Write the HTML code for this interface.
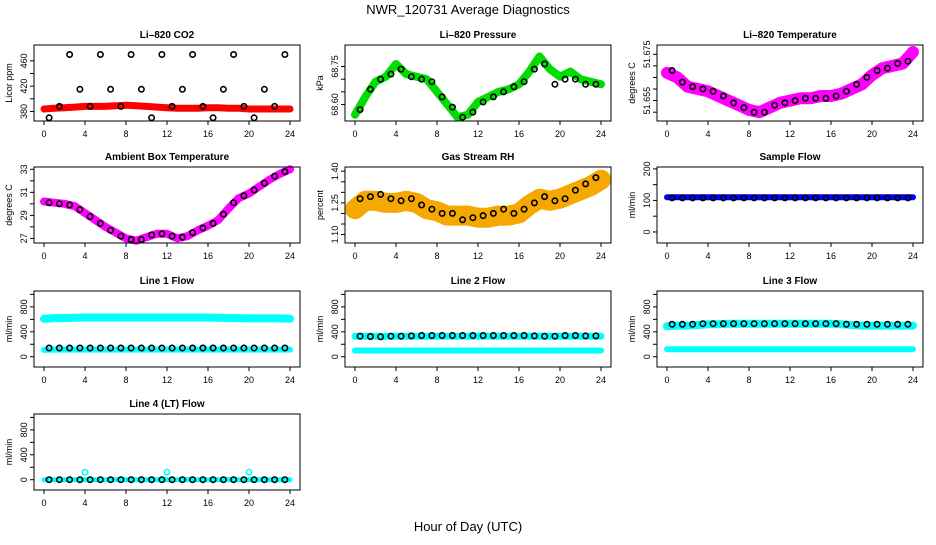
<!DOCTYPE html>
<html><head><meta charset="utf-8"><style>
body{margin:0;background:#fff}
svg text{font-family:"Liberation Sans",sans-serif;fill:#000}
</style></head><body>
<svg id="c" width="936" height="540" xmlns="http://www.w3.org/2000/svg">
<text x="468" y="14" text-anchor="middle" font-size="13">NWR_120731  Average Diagnostics</text>
<text x="468" y="531" text-anchor="middle" font-size="13">Hour of Day (UTC)</text>
</svg>
<script>
const hours = [0,1,2,3,4,5,6,7,8,9,10,11,12,13,14,15,16,17,18,19,20,21,22,23,24];
const halfHours = [0.5,1.5,2.5,3.5,4.5,5.5,6.5,7.5,8.5,9.5,10.5,11.5,12.5,13.5,14.5,15.5,16.5,17.5,18.5,19.5,20.5,21.5,22.5,23.5];
const xTicks = [0,4,8,12,16,20,24];

const co2Band = [384,385,386,387,388,388,388,389,390,389,388,387,386,385,385,385,386,386,385,385,384,384,384,384,384];
const co2Black = [370,388,470,415,388,470,415,388,470,415,370,470,388,415,470,388,370,415,470,388,370,415,388,470];
const presBand = [68.56,68.63,68.69,68.71,68.76,68.72,68.71,68.70,68.65,68.60,68.55,68.56,68.61,68.63,68.65,68.66,68.68,68.73,68.79,68.74,68.71,68.73,68.70,68.69,68.68];
const presBlack = [68.58,68.66,68.70,68.72,68.74,68.71,68.70,68.69,68.63,68.59,68.55,68.57,68.61,68.63,68.65,68.67,68.69,68.74,68.76,68.68,68.70,68.70,68.68,68.68];
const tempBand = [51.667,51.665,51.661,51.660,51.659,51.657,51.655,51.653,51.651,51.650,51.652,51.654,51.655,51.656,51.656,51.657,51.657,51.658,51.660,51.662,51.666,51.669,51.670,51.671,51.676];
const tempBlack = [51.668,51.663,51.661,51.660,51.659,51.657,51.654,51.652,51.650,51.650,51.653,51.654,51.655,51.656,51.656,51.656,51.657,51.659,51.662,51.665,51.668,51.669,51.671,51.672];
const ambBand = [30.2,30.1,30.0,29.8,29.2,28.6,28.0,27.5,27.0,26.8,27.1,27.4,27.4,27.0,27.2,27.7,28.1,28.6,29.6,30.5,30.9,31.5,32.1,32.6,33.0];
const ambBlack = [30.1,30.0,29.9,29.5,28.9,28.3,27.7,27.2,26.9,26.9,27.3,27.4,27.2,27.1,27.5,27.9,28.3,29.1,30.1,30.7,31.2,31.8,32.4,32.8];
const rhBand = [1.22,1.26,1.26,1.25,1.25,1.26,1.25,1.22,1.21,1.19,1.19,1.19,1.18,1.18,1.19,1.19,1.20,1.24,1.27,1.26,1.27,1.29,1.31,1.33,1.36];
const rhBlack = [1.27,1.28,1.29,1.27,1.26,1.27,1.24,1.22,1.20,1.20,1.17,1.18,1.19,1.20,1.22,1.20,1.22,1.25,1.28,1.26,1.27,1.31,1.34,1.37];
const sampleBand = [110,110,110,110,110,110,110,110,110,110,110,110,110,110,110,110,110,110,110,110,110,110,110,110,110];
const sampleBlack = [108,108,108,108,108,108,108,108,108,108,108,108,108,108,108,108,108,108,108,108,108,108,108,108];
const l1High = [610,620,620,625,630,630,630,630,630,630,630,630,630,630,630,630,630,625,620,620,615,615,615,615,610];
const l1Low = [110,115,115,115,115,115,115,115,115,115,115,115,115,115,115,115,115,115,115,115,115,115,115,115,115];
const l1Black = [140,140,140,140,140,140,140,140,140,140,140,140,140,140,140,140,140,140,140,140,140,140,140,140];
const l2High = [330,330,330,330,330,330,330,330,330,330,330,330,330,330,330,330,330,330,330,330,330,330,330,330,330];
const l2Low = [100,100,100,100,100,100,100,100,100,100,100,100,100,100,100,100,100,100,100,100,100,100,100,100,100];
const l2Black = [330,325,320,330,330,335,340,340,340,340,340,340,340,340,340,340,340,335,330,330,340,340,335,335];
const l3High = [490,500,500,510,520,520,530,530,530,530,530,530,530,530,530,530,530,520,510,500,500,500,500,500,500];
const l3Low = [120,120,120,120,120,120,120,120,120,120,120,120,120,120,120,120,120,120,120,120,120,120,120,120,120];
const l3Black = [520,520,520,530,530,530,530,530,530,530,530,530,530,530,530,530,530,520,520,520,520,520,520,520];
const l4Band = [0,0,0,0,0,0,0,0,0,0,0,0,0,0,0,0,0,0,0,0,0,0,0,0,0];
const l4Black = [0,0,0,0,0,0,0,0,0,0,0,0,0,0,0,0,0,0,0,0,0,0,0,0];

const svg = document.getElementById('c');
const NS = 'http://www.w3.org/2000/svg';
function mk(tag, attrs, parent){
  const e = document.createElementNS(NS, tag);
  for (const k in attrs) e.setAttribute(k, attrs[k]);
  (parent||svg).appendChild(e);
  return e;
}
const colX = [34, 345, 657];
const rowY = [45, 167, 291, 414];
const BW = 266, BH = 76;

function panel(col, row, title, ylab, ymin, ymax, ticks, labels, layers, name){
  const L = colX[col], T = rowY[row];
  const g = mk('g', {});
  
  
  const xs = h => L + 10 + h * (BW - 20) / 24;
  const ys = v => T + BH - (v - ymin) / (ymax - ymin) * BH;
  layers.forEach(ly => {
    const xsArr = ly.x, vals = ly.v;
    if (ly.band) {
      let d = '';
      vals.forEach((v, i) => { d += (i ? 'L' : 'M') + xs(xsArr[i]).toFixed(1) + ',' + ys(v).toFixed(1); });
      const p = mk('path', {d: d, fill: 'none', stroke: ly.color, 'stroke-width': ly.band, 'stroke-linejoin': 'round', 'stroke-linecap': 'round'}, g);
      
      
    }
    if (ly.circles) {
      vals.forEach((v, i) => {
        const c = mk('circle', {cx: xs(xsArr[i]).toFixed(1), cy: ys(v).toFixed(1), r: 2.7, fill: 'none', stroke: ly.color, 'stroke-width': 1.6}, g);
        
        
      });
    }
  });
  const box = mk('rect', {x: L, y: T, width: BW, height: BH, fill: 'none', stroke: '#000', 'stroke-width': 1}, g);
  
  
  const t = mk('text', {x: L + BW / 2, y: T - 7, 'text-anchor': 'middle', 'font-size': 10, 'font-weight': 'bold'}, g);
  t.textContent = title;
  
  
  xTicks.forEach(h => {
    mk('line', {x1: xs(h), x2: xs(h), y1: T + BH, y2: T + BH + 4, stroke: '#000'}, g);
    const tx = mk('text', {x: xs(h), y: T + BH + 16, 'text-anchor': 'middle', 'font-size': 9}, g);
    tx.textContent = h;
    
    
  });
  ticks.forEach(v => {
    mk('line', {x1: L, x2: L - 4, y1: ys(v), y2: ys(v), stroke: '#000'}, g);
  });
  labels.forEach(lb => {
    const y = ys(lb[0]);
    const tx = mk('text', {x: L - 7, y: y, 'text-anchor': 'middle', 'font-size': 9, transform: 'rotate(-90 ' + (L - 7) + ' ' + y + ')'}, g);
    tx.textContent = lb[1];
    
    
  });
  const yl = mk('text', {x: L - 22, y: T + BH / 2, 'text-anchor': 'middle', 'font-size': 9, transform: 'rotate(-90 ' + (L - 22) + ' ' + (T + BH / 2) + ')'}, g);
  yl.textContent = ylab;
  
  
}
const flowTicks = [0,200,400,600,800,1000];
const flowLabels = [[0,'0'],[400,'400'],[800,'800']];

panel(0,0,'Li\u2013820 CO2','Licor ppm',365,485,[380,400,420,440,460],[[380,'380'],[420,'420'],[460,'460']],
  [{x:hours,v:co2Band,color:'#f00',band:7},{x:halfHours,v:co2Black,color:'#000',circles:1}],'co2');
panel(1,0,'Li\u2013820 Pressure','kPa',68.535,68.835,[68.60,68.65,68.70,68.75],[[68.60,'68.60'],[68.75,'68.75']],
  [{x:hours,v:presBand,color:'#0d0',band:8},{x:halfHours,v:presBlack,color:'#000',circles:1}],'pressure');
panel(2,0,'Li\u2013820 Temperature','degrees C',51.6462,51.6790,[51.650,51.655,51.660,51.665,51.670,51.675],[[51.675,'51.675'],[51.655,'51.655']],
  [{x:hours,v:tempBand,color:'#f0f',band:12},{x:halfHours,v:tempBlack,color:'#000',circles:1}],'temperature');
panel(0,1,'Ambient Box Temperature','degrees C',26.6,33.2,[27,28,29,30,31,32,33],[[27,'27'],[29,'29'],[31,'31'],[33,'33']],
  [{x:hours,v:ambBand,color:'#f0f',band:8},{x:halfHours,v:ambBlack,color:'#000',circles:1}],'ambient');
panel(1,1,'Gas Stream RH','percent',1.06,1.42,[1.10,1.15,1.20,1.25,1.30,1.35,1.40],[[1.10,'1.10'],[1.25,'1.25'],[1.40,'1.40']],
  [{x:hours,v:rhBand,color:'#f5a800',band:20},{x:halfHours,v:rhBlack,color:'#000',circles:1}],'rh');
panel(2,1,'Sample Flow','ml/min',-35,206,[0,50,100,150,200],[[0,'0'],[100,'100'],[200,'200']],
  [{x:hours,v:sampleBand,color:'#00f',band:6},{x:halfHours,v:sampleBlack,color:'#000',circles:1}],'sample-flow');
panel(0,2,'Line 1 Flow','ml/min',-165,1055,flowTicks,flowLabels,
  [{x:hours,v:l1High,color:'#0ff',band:8},{x:hours,v:l1Low,color:'#0ff',band:6},{x:halfHours,v:l1Black,color:'#000',circles:1}],'line1');
panel(1,2,'Line 2 Flow','ml/min',-165,1055,flowTicks,flowLabels,
  [{x:hours,v:l2High,color:'#0ff',band:7},{x:hours,v:l2Low,color:'#0ff',band:6},{x:halfHours,v:l2Black,color:'#000',circles:1}],'line2');
panel(2,2,'Line 3 Flow','ml/min',-165,1055,flowTicks,flowLabels,
  [{x:hours,v:l3High,color:'#0ff',band:8},{x:hours,v:l3Low,color:'#0ff',band:6},{x:halfHours,v:l3Black,color:'#000',circles:1}],'line3');
panel(0,3,'Line 4 (LT) Flow','ml/min',-165,1055,flowTicks,flowLabels,
  [{x:hours,v:l4Band,color:'#0ff',band:5},{x:[4,12,20],v:[120,120,120],color:'#0ff',circles:1},{x:halfHours,v:l4Black,color:'#000',circles:1}],'line4');
</script>
</body></html>
